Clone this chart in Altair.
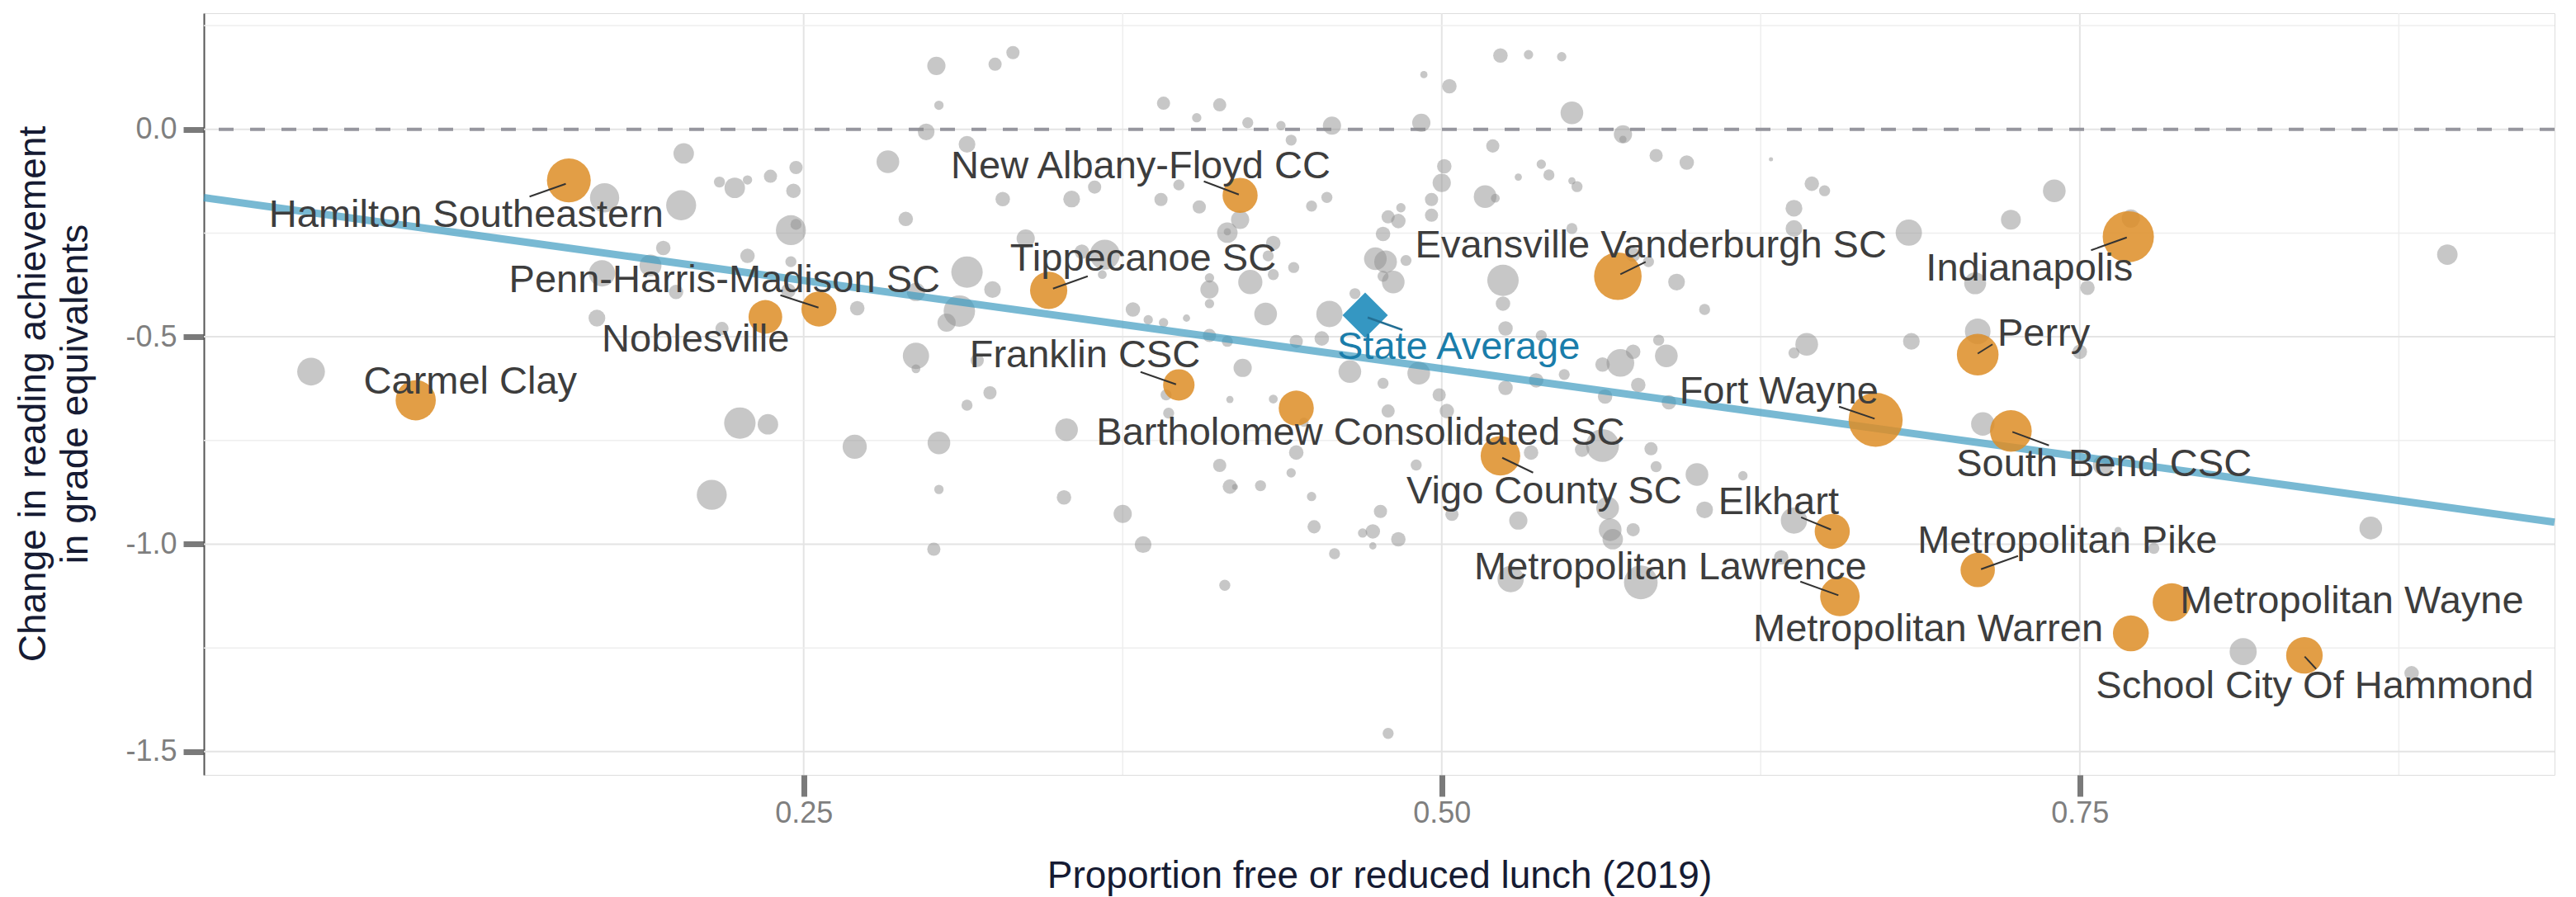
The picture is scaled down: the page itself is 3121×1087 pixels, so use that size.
import altair as alt
import pandas as pd

FONT = "Liberation Sans"

# ---------------- data ----------------
# grey districts: proportion free/reduced lunch, change in reading GE, enrollment (thousands)
grey_x = [
    0.172, 0.171, 0.169, 0.057, 0.203, 0.202, 0.195, 0.190, 0.200, 0.217,
    0.223, 0.228, 0.237, 0.247, 0.246, 0.245, 0.247, 0.228, 0.245, 0.244,
    0.271, 0.218, 0.225, 0.236, 0.270, 0.302, 0.325, 0.332, 0.303, 0.298,
    0.283, 0.314, 0.290, 0.328, 0.355, 0.364, 0.391, 0.413, 0.404, 0.424,
    0.437, 0.441, 0.390, 0.405, 0.397, 0.421, 0.416, 0.416, 0.434, 0.432,
    0.442, 0.337, 0.368, 0.359, 0.367, 0.314, 0.324, 0.311, 0.306, 0.294,
    0.409, 0.409, 0.425, 0.434, 0.409, 0.431, 0.379, 0.385, 0.391, 0.400,
    0.409, 0.416, 0.443, 0.294, 0.294, 0.318, 0.422, 0.392, 0.323, 0.314,
    0.417, 0.393, 0.353, 0.303, 0.214, 0.303, 0.301, 0.352, 0.375, 0.383,
    0.413, 0.417, 0.419, 0.429, 0.441, 0.443, 0.415, 0.523, 0.534, 0.547,
    0.493, 0.503, 0.551, 0.457, 0.492, 0.571, 0.571, 0.520, 0.584, 0.596,
    0.629, 0.501, 0.500, 0.530, 0.539, 0.542, 0.551, 0.553, 0.517, 0.521,
    0.455, 0.449, 0.496, 0.496, 0.484, 0.483, 0.479, 0.477, 0.645, 0.650,
    0.638, 0.638, 0.683, 0.551, 0.575, 0.581, 0.592, 0.603, 0.524, 0.524,
    0.486, 0.474, 0.478, 0.481, 0.477, 0.466, 0.456, 0.453, 0.525, 0.539,
    0.585, 0.588, 0.575, 0.570, 0.563, 0.643, 0.638, 0.684, 0.464, 0.477,
    0.491, 0.525, 0.537, 0.548, 0.577, 0.564, 0.589, 0.499, 0.502, 0.479,
    0.446, 0.449, 0.450, 0.458, 0.473, 0.469, 0.473, 0.476, 0.483, 0.490,
    0.479, 0.504, 0.530, 0.535, 0.555, 0.563, 0.565, 0.566, 0.567, 0.575,
    0.582, 0.584, 0.600, 0.603, 0.618, 0.638, 0.633, 0.527, 0.578, 0.740,
    0.723, 0.770, 0.894, 0.709, 0.753, 0.710, 0.750, 0.712, 0.759, 0.864,
    0.765, 0.779, 0.814, 0.880, 0.434,
]
grey_y = [
    -0.165, -0.347, -0.455, -0.584, -0.058, -0.183, -0.286, -0.328, -0.392, -0.127,
    -0.141, -0.122, -0.113, -0.092, -0.148, -0.243, -0.229, -0.305, -0.319, -0.389,
    -0.431, -0.480, -0.708, -0.711, -0.765, 0.153, 0.157, 0.185, 0.058, -0.006,
    -0.078, -0.036, -0.216, -0.168, -0.168, -0.139, 0.063, 0.059, 0.028, 0.016,
    0.009, -0.026, -0.169, -0.187, -0.134, -0.218, -0.249, -0.247, -0.274, -0.305,
    -0.333, -0.263, -0.302, -0.295, -0.350, -0.344, -0.386, -0.438, -0.466, -0.392,
    -0.386, -0.358, -0.368, -0.350, -0.420, -0.445, -0.434, -0.459, -0.466, -0.455,
    -0.497, -0.511, -0.511, -0.546, -0.577, -0.557, -0.575, -0.640, -0.635, -0.665,
    -0.651, -0.684, -0.724, -0.756, -0.881, -0.868, -1.012, -0.887, -0.927, -1.001,
    -0.810, -0.861, -0.862, -0.859, -0.828, -0.779, -1.099, 0.178, 0.180, 0.175,
    0.132, 0.104, 0.040, 0.009, 0.016, -0.012, -0.024, -0.040, -0.063, -0.080,
    -0.072, -0.089, -0.129, -0.115, -0.084, -0.110, -0.124, -0.138, -0.162, -0.166,
    -0.164, -0.185, -0.169, -0.207, -0.189, -0.221, -0.211, -0.252, -0.131, -0.148,
    -0.190, -0.239, -0.249, -0.239, -0.302, -0.319, -0.368, -0.434, -0.364, -0.420,
    -0.316, -0.312, -0.319, -0.368, -0.354, -0.396, -0.445, -0.504, -0.480, -0.497,
    -0.508, -0.546, -0.536, -0.563, -0.567, -0.518, -0.539, -0.511, -0.584, -0.612,
    -0.588, -0.623, -0.605, -0.591, -0.616, -0.644, -0.658, -0.640, -0.679, -0.679,
    -0.706, -0.885, -0.958, -1.023, -0.969, -0.973, -1.004, -0.921, -0.988, -0.809,
    -1.456, -0.928, -0.943, -0.779, -0.772, -0.762, -0.913, -0.965, -0.988, -0.965,
    -0.770, -0.813, -0.832, -0.917, -0.835, -0.943, -1.032, -1.084, -1.092, -0.148,
    -0.218, -0.215, -0.302, -0.371, -0.382, -0.487, -0.536, -0.710, -0.809, -0.961,
    -0.967, -1.010, -1.259, -1.311, -0.650,
]
grey_n = [
    9.8, 7.9, 3.2, 8.8, 4.8, 10.3, 2.4, 5.5, 2.4, 1.4,
    4.8, 1.0, 2.0, 2.0, 2.4, 10.3, 1.4, 2.4, 1.4, 2.4,
    2.4, 2.0, 11.3, 4.8, 6.7, 3.8, 2.0, 2.0, 1.0, 3.2,
    5.9, 3.2, 2.4, 2.4, 3.2, 2.0, 2.0, 2.0, 1.0, 1.4,
    1.0, 1.4, 2.0, 2.0, 1.4, 3.8, 4.8, 0.6, 2.4, 1.4,
    1.4, 3.8, 10.3, 2.4, 0.9, 11.3, 3.2, 11.3, 3.8, 3.8,
    3.8, 1.0, 6.7, 1.4, 1.0, 5.9, 2.4, 1.0, 1.0, 0.6,
    2.0, 1.4, 2.0, 7.9, 0.9, 2.0, 3.8, 1.4, 2.0, 1.4,
    0.6, 1.4, 5.9, 5.9, 10.3, 1.0, 2.0, 2.4, 3.8, 3.2,
    2.0, 2.4, 0.4, 1.4, 1.0, 2.4, 1.4, 2.4, 1.0, 1.0,
    0.6, 2.4, 5.9, 3.8, 3.8, 3.8, 0.6, 2.0, 2.0, 2.4,
    0.2, 2.4, 3.8, 0.6, 1.0, 1.4, 0.6, 1.4, 5.9, 0.9,
    1.4, 1.4, 2.0, 2.0, 1.0, 2.4, 2.0, 2.4, 2.4, 1.4,
    3.2, 3.2, 7.9, 1.4, 2.4, 1.4, 3.2, 1.4, 11.3, 2.4,
    1.4, 5.9, 5.9, 5.9, 1.4, 1.4, 7.9, 2.4, 2.4, 1.4,
    1.4, 5.9, 2.4, 8.8, 2.4, 5.9, 1.4, 3.2, 5.9, 1.4,
    5.9, 2.4, 2.4, 1.4, 2.4, 2.4, 2.4, 2.0, 2.4, 2.0,
    1.0, 1.0, 2.0, 1.4, 2.4, 1.0, 0.6, 2.0, 2.4, 1.4,
    1.4, 2.0, 3.8, 2.4, 2.4, 12.4, 5.9, 5.9, 4.8, 2.0,
    2.0, 1.4, 5.9, 3.2, 1.0, 7.9, 2.4, 7.9, 13.0, 5.9,
    4.5, 3.8, 4.8, 5.5, 2.4, 7.5, 2.4, 6.3, 4.5, 5.9,
    0.6, 1.4, 8.4, 2.4, 0.9,
]

# highlighted districts
hl_names = [
    "Hamilton Southeastern", "Carmel Clay", "Noblesville", "Penn-Harris-Madison SC",
    "New Albany-Floyd CC", "Tippecanoe SC", "Franklin CSC", "Bartholomew Consolidated SC",
    "Evansville Vanderburgh SC", "Vigo County SC", "Fort Wayne", "Elkhart",
    "Metropolitan Lawrence", "Indianapolis", "Perry", "South Bend CSC",
    "Metropolitan Pike", "Metropolitan Warren", "Metropolitan Wayne", "School City Of Hammond",
]
hl_x = [0.158, 0.098, 0.235, 0.256, 0.421, 0.346, 0.397, 0.443, 0.569, 0.523,
        0.670, 0.653, 0.656, 0.769, 0.710, 0.723, 0.710, 0.770, 0.786, 0.838]
hl_y = [-0.123, -0.653, -0.452, -0.433, -0.159, -0.388, -0.616, -0.672, -0.354, -0.787,
        -0.700, -0.969, -1.126, -0.259, -0.543, -0.727, -1.062, -1.215, -1.140, -1.268]
hl_n = [22.0, 18.5, 13.0, 14.1, 14.1, 15.9, 11.3, 14.1, 25.9, 17.9,
        33.5, 14.1, 17.9, 30.0, 19.9, 19.9, 13.5, 14.7, 16.6, 15.3]

state_name = "State Average"
state_x = 0.470
state_y = -0.448

# fitted line (intercept, slope)
fit_intercept = -0.152
fit_slope = -0.849

x_ticks = [0.25, 0.50, 0.75]
x_minor = [0.375, 0.625, 0.875]
y_ticks = [-1.5, -1.0, -0.5, 0.0]
y_minor = [-1.25, -0.75, -0.25, 0.25]

x_domain = [0.015, 0.936]
y_domain = [-1.556, 0.280]

# ---------------- label layout (repelled label positions, data units) ----------------
label_x = [0.0405, 0.0776, 0.1709, 0.1345, 0.3077, 0.3309, 0.3150, 0.3647, 0.4896, 0.4862,
           0.5931, 0.6083, 0.5127, 0.6897, 0.7177, 0.7016, 0.6864, 0.6220, 0.7893, 0.7563]
label_y = [-0.2347, -0.6366, -0.5351, -0.3919, -0.1174, -0.3402, -0.5739, -0.7599, -0.3083, -0.9019,
           -0.6604, -0.9280, -1.0841, -0.3640, -0.5212, -0.8351, -1.0205, -1.2333, -1.1657, -1.3706]
seg_x1 = [0.1426, 0.2409, 0.4068, 0.3613, 0.3820, 0.5799, 0.6557, 0.5237, 0.6408, 0.6405,
          0.7544, 0.7100, 0.7236, 0.7113, 0.8381]
seg_y1 = [-0.1621, -0.3998, -0.1253, -0.3541, -0.5849, -0.3193, -0.6684, -0.7917, -0.9350, -1.0901,
          -0.2914, -0.5405, -0.7293, -1.0603, -1.2707]
seg_x2 = [0.1568, 0.2558, 0.4205, 0.3477, 0.3959, 0.5700, 0.6696, 0.5358, 0.6525, 0.6554,
          0.7684, 0.7158, 0.7379, 0.7258, 0.8426]
seg_y2 = [-0.1313, -0.4297, -0.1572, -0.3839, -0.6147, -0.3493, -0.6974, -0.8275, -0.9648, -1.1231,
          -0.2606, -0.5182, -0.7619, -1.0285, -1.3006]
state_label_x, state_label_y = 0.4590, -0.5530
state_seg = [0.4710, -0.4536, 0.4846, -0.4834]

# ---------------- styling ----------------
TITLE_COLOR = "#161b33"
TICK_LABEL = "#7f7f7f"
XS = alt.Scale(domain=x_domain, nice=False, zero=False)
YS = alt.Scale(domain=y_domain, nice=False, zero=False)
SIZE = alt.Scale(domain=[0, 30], range=[0, 3848])

x_axis = alt.Axis(
    values=x_ticks, format=".2f", grid=False, domain=False,
    tickSize=26, tickWidth=7, tickColor="#7a7a7a",
    labelFontSize=36, labelColor=TICK_LABEL, labelFont=FONT, labelPadding=3,
    title="Proportion free or reduced lunch (2019)",
    titleFontSize=46, titleColor=TITLE_COLOR, titleFont=FONT, titleFontWeight="normal",
    titleX=1424, titleY=136, titleBaseline="alphabetic", titleAlign="center",
)
y_axis = alt.Axis(
    values=y_ticks, grid=False, domain=True,
    labelExpr="datum.value < 0 ? '-' + format(-datum.value, '.1f') : format(datum.value, '.1f')",
    domainColor="#555555", domainWidth=2,
    tickSize=25, tickWidth=7, tickColor="#7a7a7a",
    labelFontSize=36, labelColor=TICK_LABEL, labelFont=FONT, labelPadding=8,
    title=["Change in reading  achievement", "in grade equivalents"],
    titleFontSize=46, titleColor=TITLE_COLOR, titleFont=FONT, titleFontWeight="normal",
    titleAngle=270, titleX=-193, titleY=461, titleLineHeight=51,
    titleBaseline="alphabetic", titleAlign="center",
)


def X(f):
    return alt.X(f, type="quantitative", scale=XS, axis=x_axis)


def Y(f):
    return alt.Y(f, type="quantitative", scale=YS, axis=y_axis)


grey_df = pd.DataFrame({"x": grey_x, "y": grey_y, "n": grey_n})
hl_df = pd.DataFrame({"name": hl_names, "x": hl_x, "y": hl_y, "n": hl_n})
lab_df = pd.DataFrame({"name": hl_names, "lx": label_x, "ly": label_y})
seg_df = pd.DataFrame({"x": seg_x1, "y": seg_y1, "x2": seg_x2, "y2": seg_y2})
fit_df = pd.DataFrame({"x": x_domain,
                       "y": [fit_intercept + fit_slope * v for v in x_domain]})
state_df = pd.DataFrame({"name": [state_name], "x": [state_x], "y": [state_y],
                         "lx": [state_label_x], "ly": [state_label_y]})
state_seg_df = pd.DataFrame({"x": [state_seg[0]], "y": [state_seg[1]],
                             "x2": [state_seg[2]], "y2": [state_seg[3]]})

vmaj = alt.Chart(pd.DataFrame({"v": x_ticks})).mark_rule(color="#e4e4e4", strokeWidth=2).encode(x=X("v"))
vmin = alt.Chart(pd.DataFrame({"v": x_minor})).mark_rule(color="#eeeeee", strokeWidth=1.5).encode(x=X("v"))
hmaj = alt.Chart(pd.DataFrame({"v": y_ticks})).mark_rule(color="#e4e4e4", strokeWidth=2).encode(y=Y("v"))
hmin = alt.Chart(pd.DataFrame({"v": y_minor})).mark_rule(color="#eeeeee", strokeWidth=1.5).encode(y=Y("v"))
zero = alt.Chart(pd.DataFrame({"v": [0.0]})).mark_rule(
    color="#96969e", strokeWidth=4, strokeDash=[18, 20]).encode(y=Y("v"))

grey = alt.Chart(grey_df).mark_circle(color="#8f8f8f", opacity=0.5).encode(
    x=X("x"), y=Y("y"), size=alt.Size("n:Q", scale=SIZE, legend=None))
fit = alt.Chart(fit_df).mark_line(color="#3F9BC0", strokeWidth=9, opacity=0.7).encode(
    x=X("x"), y=Y("y"))
hl = alt.Chart(hl_df).mark_circle(color="#DD8D26", opacity=0.85).encode(
    x=X("x"), y=Y("y"), size=alt.Size("n:Q", scale=SIZE, legend=None))
diamond = alt.Chart(state_df).mark_point(
    shape="diamond", filled=True, size=3025, color="#3597C2", opacity=1).encode(
    x=X("x"), y=Y("y"))
segs = alt.Chart(seg_df).mark_rule(color="#333333", strokeWidth=2).encode(
    x=X("x"), y=Y("y"), x2=alt.X2("x2"), y2=alt.Y2("y2"))
sseg = alt.Chart(state_seg_df).mark_rule(color="#236F94", strokeWidth=2.5).encode(
    x=X("x"), y=Y("y"), x2=alt.X2("x2"), y2=alt.Y2("y2"))
labels = alt.Chart(lab_df).mark_text(
    align="left", baseline="alphabetic", fontSize=47, font=FONT, color="#3d3d3d").encode(
    x=X("lx"), y=Y("ly"), text="name:N")
slabel = alt.Chart(state_df).mark_text(
    align="left", baseline="alphabetic", fontSize=47, font=FONT, color="#1A7DAA").encode(
    x=X("lx"), y=Y("ly"), text="name:N")

chart = alt.layer(
    vmin, vmaj, hmin, hmaj, zero, grey, fit, hl, diamond, segs, sseg, labels, slabel
).properties(
    width=2848, height=923,
    padding={"left": 239, "top": 8, "right": 5, "bottom": 150},
    autosize=alt.AutoSizeParams(type="none"),
    background="white",
).configure_view(
    stroke="#c8c8c8", strokeWidth=2
).configure(font=FONT)

chart.save("out.html", embed_options={"renderer": "svg", "actions": False})
